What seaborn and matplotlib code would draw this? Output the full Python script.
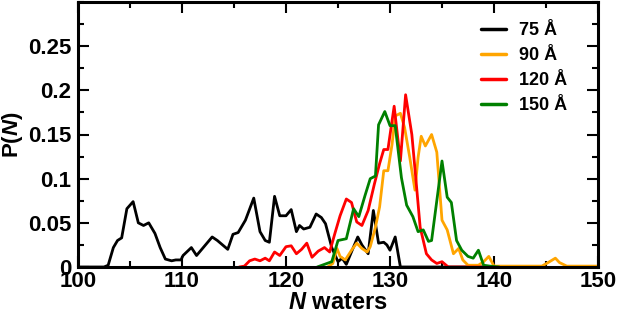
import numpy as np
import pandas as pd
import matplotlib
matplotlib.use("Agg")
import matplotlib.pyplot as plt
import seaborn as sns
from matplotlib.ticker import MultipleLocator

sns.set_theme(style="ticks")
plt.rcParams['font.family'] = ['Liberation Sans', 'DejaVu Sans']
plt.rcParams['font.weight'] = 'bold'
plt.rcParams['mathtext.fontset'] = 'custom'
plt.rcParams['mathtext.it'] = 'Liberation Sans:italic:bold'
plt.rcParams['mathtext.rm'] = 'Liberation Sans:bold'
for key in ['text.color', 'axes.labelcolor', 'xtick.color', 'ytick.color', 'axes.edgecolor']:
    plt.rcParams[key] = 'black'

# ---- data ----
n_75 = [100, 102.5, 102.9, 103.4, 103.8, 104.2, 104.7, 105.3, 105.8, 106.3, 106.8, 107.4, 107.9,
        108.4, 109.0, 109.4, 109.9, 110.1, 110.9, 111.4, 111.9, 112.4, 112.9, 113.4, 113.9, 114.4,
        114.9, 115.4, 116.1, 116.9, 117.5, 118.0, 118.4, 118.9, 119.4, 120.0, 120.5, 121.0, 121.3,
        121.7, 122.3, 122.9, 123.4, 123.8, 124.4, 125.0, 125.4, 125.8, 126.4, 126.9, 127.3, 127.9,
        128.4, 128.9, 129.4, 129.7, 130.0, 130.5, 131.0, 140.0]
p_75 = [0.0, 0.0, 0.002, 0.022, 0.030, 0.033, 0.066, 0.074, 0.050, 0.047, 0.050, 0.038, 0.022,
        0.009, 0.007, 0.008, 0.008, 0.013, 0.022, 0.013, 0.020, 0.027, 0.034, 0.030, 0.025, 0.020,
        0.037, 0.039, 0.053, 0.078, 0.040, 0.030, 0.028, 0.080, 0.058, 0.058, 0.065, 0.040, 0.047,
        0.043, 0.045, 0.060, 0.056, 0.049, 0.022, 0.006, 0.010, 0.003, 0.020, 0.034, 0.025, 0.015,
        0.064, 0.027, 0.028, 0.025, 0.019, 0.034, 0.0, 0.0]

n_90 = [124.0, 124.5, 124.9, 125.2, 125.7, 126.3, 126.8, 127.3, 127.8, 128.1, 128.6, 129.0, 129.4,
        129.8, 130.2, 130.5, 131.0, 131.4, 131.9, 132.4, 132.7, 133.0, 133.4, 134.0, 134.5, 135.0,
        135.5, 136.1, 136.6, 137.0, 137.5, 138.5, 139.0, 139.5, 140.0, 144.6, 145.2, 145.9, 146.3,
        147.0, 150.0]
p_90 = [0.0, 0.004, 0.021, 0.012, 0.008, 0.019, 0.027, 0.021, 0.017, 0.023, 0.045, 0.068, 0.109,
        0.109, 0.139, 0.171, 0.174, 0.158, 0.124, 0.087, 0.124, 0.148, 0.137, 0.150, 0.130, 0.053,
        0.042, 0.015, 0.021, 0.008, 0.002, 0.002, 0.006, 0.012, 0.001, 0.001, 0.005, 0.010, 0.005,
        0.001, 0.001]

n_120 = [115.5, 116.0, 116.5, 117.0, 117.5, 118.0, 118.4, 118.9, 119.4, 120.0, 120.5, 121.0, 121.5,
         122.0, 122.5, 123.1, 123.7, 124.2, 124.7, 125.2, 125.8, 126.3, 126.8, 127.3, 127.9, 128.5,
         129.0, 129.4, 129.8, 130.4, 131.0, 131.5, 132.1, 132.5, 132.9, 133.5, 134.0, 134.5, 135.0,
         135.6, 140.0]
p_120 = [0.0, 0.001, 0.007, 0.009, 0.007, 0.010, 0.007, 0.017, 0.013, 0.023, 0.024, 0.015, 0.020,
         0.027, 0.011, 0.018, 0.022, 0.017, 0.038, 0.058, 0.077, 0.073, 0.051, 0.047, 0.064, 0.094,
         0.117, 0.133, 0.133, 0.182, 0.120, 0.195, 0.150, 0.098, 0.045, 0.015, 0.008, 0.004, 0.006,
         0.0, 0.0]

n_150 = [123.0, 124.4, 125.0, 125.8, 126.5, 127.0, 127.6, 128.1, 128.6, 128.9, 129.5, 130.0, 130.5,
         131.1, 131.6, 132.2, 132.7, 133.2, 133.7, 134.0, 134.5, 135.0, 135.5, 135.9, 136.4, 136.9,
         137.5, 138.0, 138.5, 139.0, 139.6, 140.5]
p_150 = [0.0, 0.006, 0.030, 0.032, 0.066, 0.057, 0.081, 0.100, 0.103, 0.161, 0.176, 0.160, 0.160,
         0.101, 0.070, 0.057, 0.040, 0.042, 0.029, 0.030, 0.075, 0.120, 0.079, 0.073, 0.030, 0.019,
         0.012, 0.010, 0.019, 0.002, 0.001, 0.0]

labels = ["75 Å", "90 Å", "120 Å", "150 Å"]
colors = ["#000000", "#FFA500", "#FF0000", "#008000"]

frames = []
for lab, n, p in zip(labels, [n_75, n_90, n_120, n_150], [p_75, p_90, p_120, p_150]):
    frames.append(pd.DataFrame({"N": n, "P": p, "box": lab}))
df = pd.concat(frames, ignore_index=True)

fig = plt.figure(figsize=(6.17, 3.15), dpi=100)
ax = fig.add_axes([78 / 617, 1 - 267 / 315, 520 / 617, 265 / 315])

sns.lineplot(data=df, x="N", y="P", hue="box", palette=dict(zip(labels, colors)),
             hue_order=labels, estimator=None, sort=False, linewidth=2.0, ax=ax, legend=False)

ax.set_xlim(100, 150)
ax.xaxis.set_major_locator(MultipleLocator(10))
ax.xaxis.set_minor_locator(MultipleLocator(5))
ax.yaxis.set_minor_locator(MultipleLocator(0.025))
ax.set_yticks([0, 0.05, 0.1, 0.15, 0.2, 0.25])
ax.set_yticklabels(["0", "0.05", "0.1", "0.15", "0.2", "0.25"])
ax.set_ylim(0, 0.3)

ax.tick_params(which="both", direction="in", top=True, right=True, width=1.5, labelsize=16,
               color="black", labelcolor="black")
ax.tick_params(which="major", length=8, pad=5)
ax.tick_params(axis="x", which="major", pad=3)
ax.tick_params(which="minor", length=4)
for t in ax.get_xticklabels() + ax.get_yticklabels():
    t.set_fontweight("bold")
for s in ax.spines.values():
    s.set_linewidth(2.2)
    s.set_color("black")
    s.set_visible(True)

ax.set_xlabel(r"$N$ waters", fontsize=17, fontweight="bold", labelpad=-1, color="black")
ax.set_ylabel(r"P($N$)", fontsize=16, fontweight="bold", labelpad=2, color="black")

handles = [plt.Line2D([], [], color=c, lw=2.5) for c in colors]
leg = ax.legend(handles, labels, loc="upper left", bbox_to_anchor=(0.775, 0.925), frameon=False,
                prop={"size": 13, "weight": "bold"}, handlelength=1.4, handletextpad=0.7,
                labelspacing=0.45, borderpad=0, borderaxespad=0)
for t in leg.get_texts():
    t.set_color("black")

fig.savefig("out.png", dpi=100)
